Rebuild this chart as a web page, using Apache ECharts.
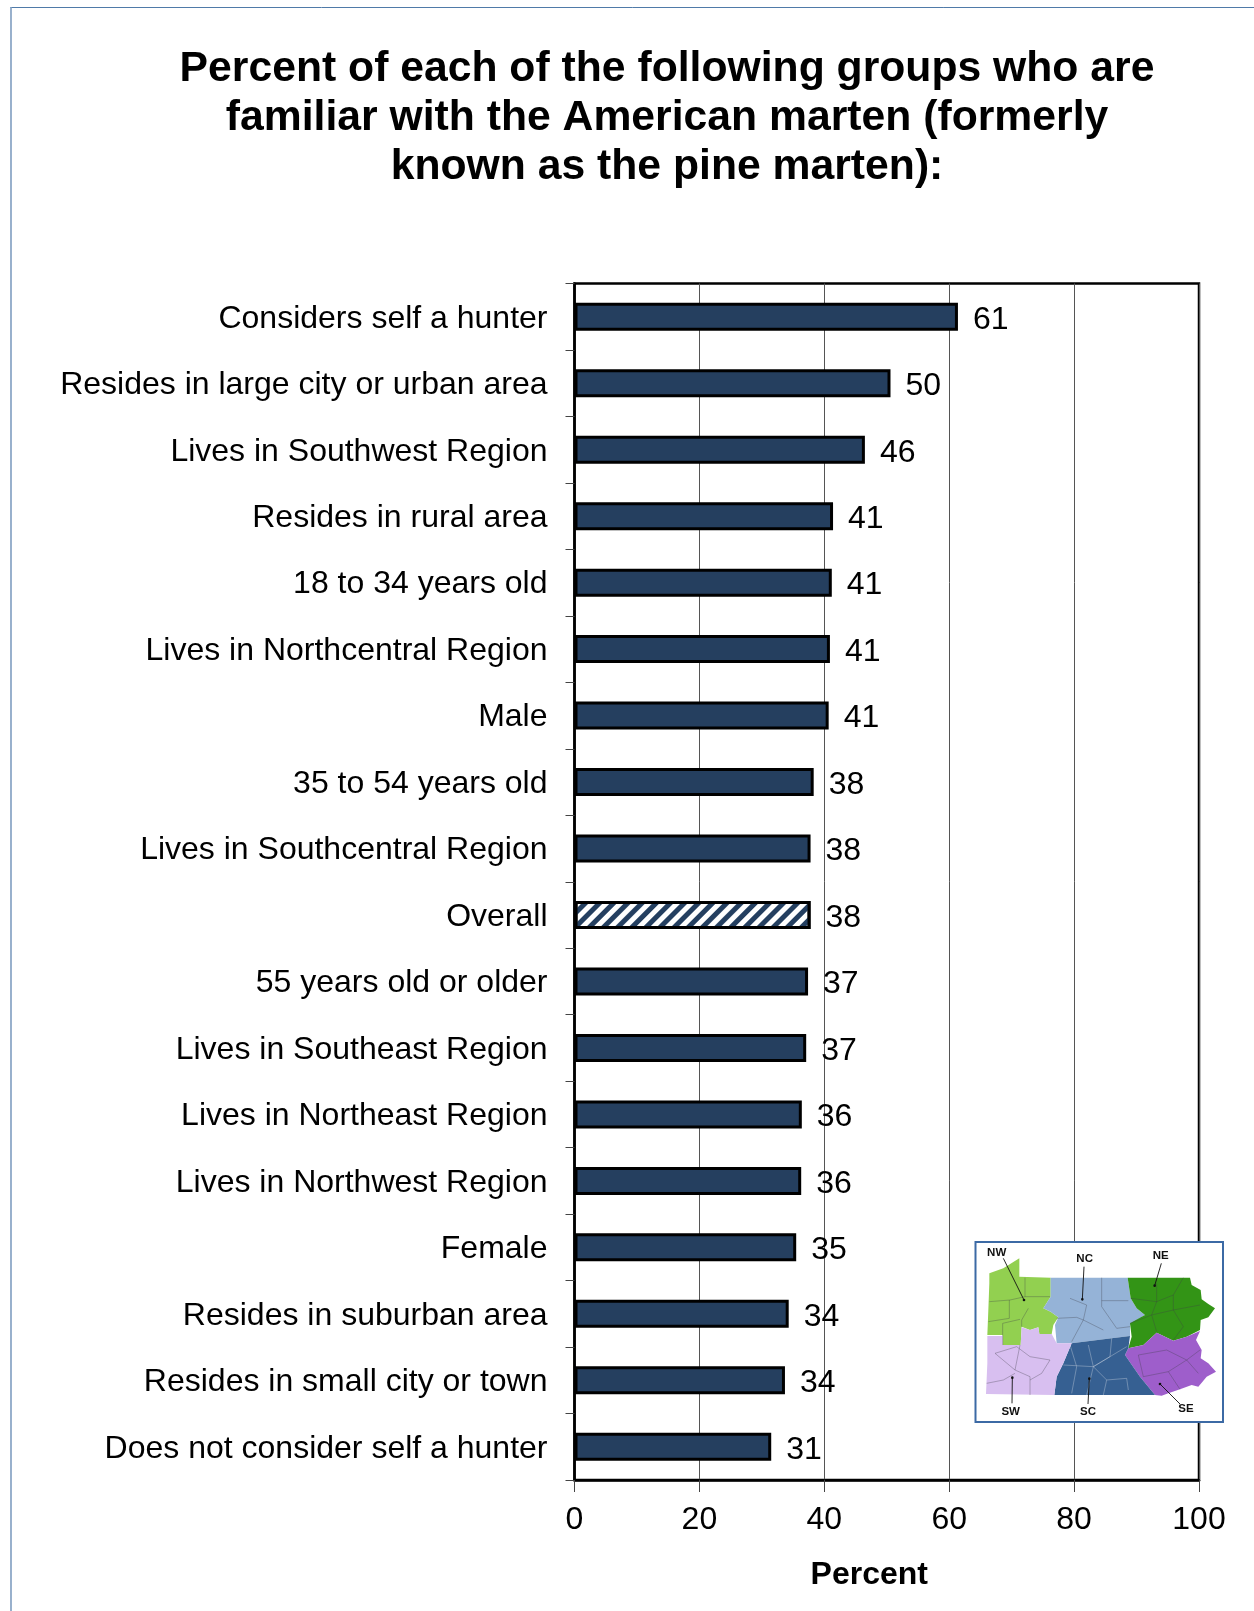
<!DOCTYPE html>
<html><head><meta charset="utf-8">
<style>html,body{margin:0;padding:0;background:#fff}#c{width:1254px;height:1611px}</style>
<script src="https://cdn.jsdelivr.net/npm/echarts@6/dist/echarts.min.js"></script>
</head><body><div id="c"></div>
<script>
const titleText = 'Percent of each of the following groups who are\nfamiliar with the American marten (formerly\nknown as the pine marten):';
const categories = ['Considers self a hunter','Resides in large city or urban area','Lives in Southwest Region','Resides in rural area','18 to 34 years old','Lives in Northcentral Region','Male','35 to 54 years old','Lives in Southcentral Region','Overall','55 years old or older','Lives in Southeast Region','Lives in Northeast Region','Lives in Northwest Region','Female','Resides in suburban area','Resides in small city or town','Does not consider self a hunter'];
const values = [61.4,50.6,46.5,41.4,41.2,40.9,40.7,38.3,37.8,37.8,37.4,37.1,36.4,36.3,35.5,34.3,33.7,31.5];
const valueLabels = [61,50,46,41,41,41,41,38,38,38,37,37,36,36,35,34,34,31];
const highlighted = 'Overall';
const xTicks = [0,20,40,60,80,100];

// Inset map of the regions (decoration, in reference-crop pixels)
const regions = [
 {color:'#92d050',pts:[[88,160],[88,130],[130,115],[178,85],[178,140],[272,143],[272,200],[250,235],[272,245],[295,262],[280,285],[275,312],[238,312],[235,292],[210,300],[185,290],[182,345],[128,345],[128,315],[82,315],[85,240]]},
 {color:'#95b3d7',pts:[[272,143],[503,143],[512,205],[530,235],[555,255],[510,285],[510,318],[455,325],[335,340],[290,340],[285,285],[295,262],[272,245],[250,235],[272,200]]},
 {color:'#339416',pts:[[503,143],[668,143],[690,143],[695,165],[722,180],[725,208],[745,222],[765,235],[745,262],[722,270],[720,300],[680,320],[640,332],[590,308],[550,345],[505,355],[515,320],[510,280],[555,255],[530,235],[512,205]]},
 {color:'#9e5ecb',pts:[[590,308],[640,332],[680,320],[720,303],[708,330],[725,360],[722,385],[745,400],[768,425],[740,440],[715,470],[695,465],[660,478],[625,490],[605,497],[585,495],[540,440],[495,375],[505,355],[550,345]]},
 {color:'#366092',pts:[[335,340],[455,325],[510,318],[505,355],[495,375],[540,440],[585,495],[283,495],[290,440],[310,400]]},
 {color:'#d8bff0',pts:[[82,318],[128,318],[128,345],[182,345],[185,292],[210,300],[235,292],[238,312],[275,312],[290,340],[335,340],[310,400],[290,440],[283,495],[78,492],[82,400]]}
];
const countyLines = [
 [[88,215],[150,210],[195,200],[270,200]],[[148,210],[148,265],[85,275]],[[195,143],[195,200]],[[205,235],[185,270],[185,290]],[[128,345],[128,280],[180,268]],
 [[330,205],[380,225],[370,270],[335,335]],[[425,143],[425,230],[470,295],[510,290]],[[290,265],[350,262],[370,270],[430,300]],[[425,212],[505,212]],
 [[512,205],[590,215],[640,195],[670,143]],[[590,160],[590,215],[575,255],[590,305]],[[640,195],[640,240],[670,290],[640,330]],[[510,280],[575,255],[640,240],[720,225]],
 [[535,375],[620,360],[680,390],[720,360]],[[535,375],[550,440],[625,425],[680,390]],[[625,425],[660,478]],[[680,390],[715,430]],
 [[105,370],[170,350],[210,380],[270,390]],[[105,370],[165,420],[210,440],[210,495]],[[80,460],[130,450],[165,430]],[[270,390],[245,430],[210,450]],[[180,345],[165,420]]
];
const countyLinesLight = [
 [[310,405],[400,410],[500,350]],[[350,410],[335,490]],[[400,410],[380,495]],[[400,410],[450,380],[455,325]],[[440,450],[500,445],[505,480]],[[440,450],[430,495]],[[330,345],[350,410]],[[385,345],[400,410],[440,450]]
];
const mapLabels = [
 {t:'NW',x:110,y:68,from:[130,85],to:[192,210]},{t:'NC',x:374,y:85,from:[372,110],to:[367,208]},{t:'NE',x:602,y:78,from:[604,100],to:[584,167]},
 {t:'SW',x:152,y:545,from:[156,520],to:[157,443]},{t:'SC',x:384,y:546,from:[384,522],to:[388,446]},{t:'SE',x:678,y:537,from:[660,522],to:[600,462]}
];
const P = p => [960 + p[0]/3, 1230 + p[1]/3];

const mapGraphics = [{type:'rect',z:50,shape:{x:975.5,y:1242,width:247.5,height:180},style:{fill:'#fff',stroke:'#3c6aa5',lineWidth:2}}];
regions.forEach(r=>mapGraphics.push({type:'polygon',z:51,shape:{points:r.pts.map(P)},style:{fill:r.color}}));
countyLines.forEach(l=>mapGraphics.push({type:'polyline',z:52,shape:{points:l.map(P)},style:{fill:'none',stroke:'rgba(60,60,70,0.55)',lineWidth:0.6}}));
countyLinesLight.forEach(l=>mapGraphics.push({type:'polyline',z:52,shape:{points:l.map(P)},style:{fill:'none',stroke:'rgba(215,220,230,0.6)',lineWidth:0.6}}));
mapLabels.forEach(m=>{
  mapGraphics.push({type:'line',z:53,shape:{x1:P(m.from)[0],y1:P(m.from)[1],x2:P(m.to)[0],y2:P(m.to)[1]},style:{stroke:'#111',lineWidth:0.9}});
  mapGraphics.push({type:'circle',z:53,shape:{cx:P(m.to)[0],cy:P(m.to)[1],r:1.3},style:{fill:'#111'}});
  mapGraphics.push({type:'text',z:53,x:P([m.x,m.y])[0],y:P([m.x,m.y])[1],style:{text:m.t,fill:'#111',font:'bold 11.5px "Liberation Sans"',textAlign:'center',textVerticalAlign:'middle'}});
});

const frame = [
 {type:'line',z:60,shape:{x1:10.5,y1:7.5,x2:1254,y2:7.5},style:{stroke:'#4f7aa8',lineWidth:1}},
 {type:'line',z:60,shape:{x1:11,y1:7,x2:11,y2:1611},style:{stroke:'#7f9dc0',lineWidth:1.6}}
];

const chart = echarts.init(document.getElementById('c'),null,{renderer:'canvas',width:1254,height:1611});
chart.setOption({
  animation:false,
  backgroundColor:'#fff',
  title:{text:titleText,left:662,top:40,textAlign:'center',textStyle:{fontFamily:'Liberation Sans',fontWeight:'bold',fontSize:42.7,lineHeight:49,color:'#000'}},
  grid:{left:574.5,top:283.5,width:624.5,height:1196.5,show:true,borderColor:'#000',borderWidth:2.5,backgroundColor:'transparent'},
  xAxis:{type:'value',min:xTicks[0],max:xTicks[xTicks.length-1],interval:20,
    name:'Percent',nameLocation:'middle',nameGap:79,
    nameTextStyle:{fontFamily:'Liberation Sans',fontWeight:'bold',fontSize:32,color:'#000',padding:[0,35,0,0]},
    axisLine:{show:true,lineStyle:{color:'#000',width:2.5}},
    axisTick:{show:true,length:12,lineStyle:{color:'#444',width:1}},
    axisLabel:{fontFamily:'Liberation Sans',fontSize:32,color:'#000',margin:24},
    splitLine:{show:true,lineStyle:{color:'#555',width:1}}},
  yAxis:{type:'category',inverse:true,data:categories,
    axisLine:{show:true,lineStyle:{color:'#000',width:2.5}},
    axisTick:{show:true,length:9,alignWithLabel:false,lineStyle:{color:'#444',width:1}},
    axisLabel:{fontFamily:'Liberation Sans',fontSize:32,lineHeight:32,color:'#000',margin:27,interval:0,verticalAlign:'top',padding:[-14,0,0,0]},
    splitLine:{show:false}},
  series:[{type:'bar',barWidth:28,
    data:values.map((v,i)=>({value:v,
      itemStyle: categories[i]===highlighted
        ? {color:'#fff',borderColor:'#000',borderWidth:3,decal:{symbol:'rect',color:'#243f60',dashArrayX:[1,0],dashArrayY:[5,5],rotation:-Math.PI/4,symbolSize:1}}
        : {color:'#253f5f',borderColor:'#000',borderWidth:3}})),
    label:{show:true,position:'right',distance:15,offset:[0,3],fontFamily:'Liberation Sans',fontSize:32,color:'#000',
      formatter:p=>String(valueLabels[p.dataIndex])}}],
  graphic:{elements:frame.concat(mapGraphics)}
});
</script></body></html>
